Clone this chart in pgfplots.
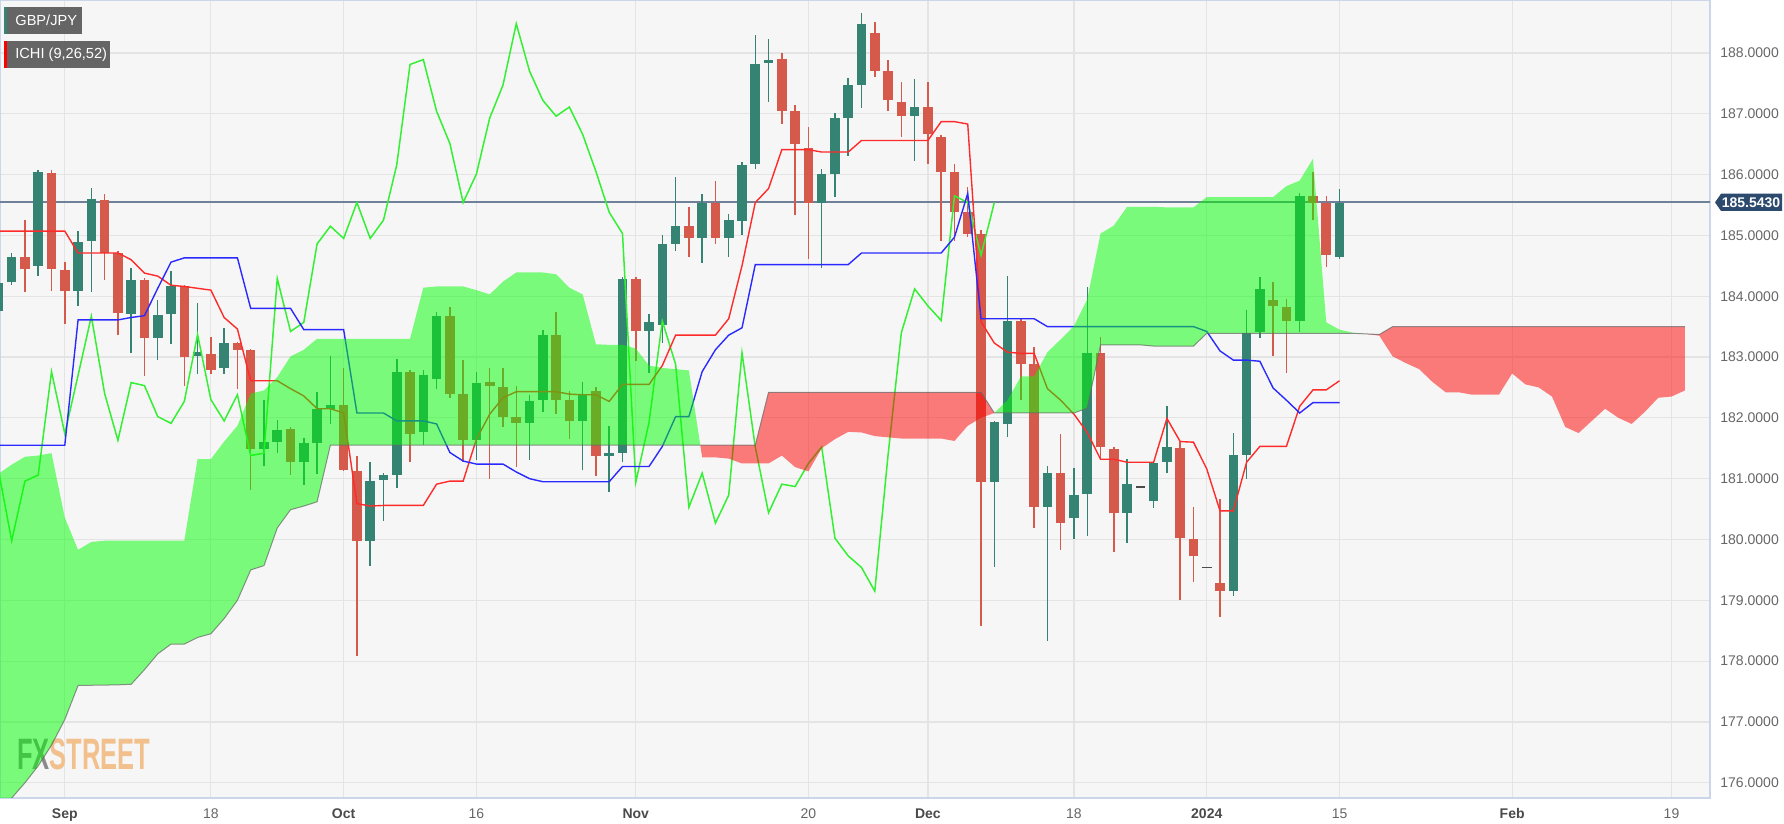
\documentclass[border=0pt]{standalone}
\usepackage{fontspec}
\setmainfont{Liberation Sans}
\usepackage{pgfplots}
\usepackage{pgfplotstable}
\pgfplotsset{compat=1.18}

\definecolor{cUp}{HTML}{358473}
\definecolor{cDn}{HTML}{D65A4B}
\definecolor{cTen}{HTML}{FF2A2A}
\definecolor{cKij}{HTML}{2A2AFF}
\definecolor{cChi}{HTML}{33F033}
\definecolor{cPrice}{HTML}{6F8099}
\definecolor{cGrid}{HTML}{E4E4E4}
\definecolor{cBg}{HTML}{F6F6F6}
\definecolor{cBorder}{HTML}{CCD6EB}
\definecolor{cLab}{HTML}{666666}
\definecolor{cMon}{HTML}{4A4A4A}
\definecolor{cBox}{HTML}{5E5E5E}
\definecolor{cNavy}{HTML}{2C4A6E}
\definecolor{cLogo}{HTML}{F2C08C}
\definecolor{cLogoG}{HTML}{8A8A8A}
\newcommand\mb[1]{\textcolor{cMon}{\textbf{#1}}}

% rising candles
\pgfplotstableread{
i o h l c
-5 183.76 184.35 183.55 184.22
-4 184.23 184.71 184.18 184.65
-2 184.50 186.07 184.33 186.05
1 184.09 185.07 183.84 184.90
2 184.90 185.78 184.07 185.59
5 183.71 184.46 183.06 184.27
7 183.31 183.94 182.95 183.70
8 183.70 184.41 183.21 184.16
10 183.02 183.89 182.72 183.08
12 182.82 183.48 182.73 183.23
15 181.49 182.29 181.21 181.60
16 181.60 181.97 181.42 181.80
18 181.28 181.67 180.90 181.59
19 181.59 182.42 181.08 182.15
20 182.15 183.02 181.90 182.21
23 179.98 181.27 179.57 180.96
24 180.98 181.10 180.31 181.06
25 181.06 182.97 180.85 182.76
27 181.76 182.78 181.55 182.70
28 182.64 183.74 182.48 183.67
31 181.63 182.76 181.31 182.58
35 181.91 182.38 181.31 182.27
36 182.29 183.44 182.10 183.37
39 181.95 182.59 181.14 182.38
41 181.38 181.87 180.78 181.42
42 181.42 184.32 181.28 184.29
44 183.42 183.71 182.74 183.57
45 183.52 185.00 183.23 184.86
46 184.86 185.96 184.75 185.15
48 184.95 185.68 184.54 185.54
50 184.95 185.35 184.65 185.25
51 185.24 186.21 185.00 186.16
52 186.18 188.30 186.09 187.81
53 187.83 188.23 187.20 187.89
57 185.54 186.09 184.46 186.01
58 186.01 187.02 185.63 186.93
59 186.93 187.58 186.30 187.47
60 187.47 188.66 187.09 188.48
64 186.96 187.57 186.22 187.11
70 180.94 181.95 179.55 181.93
71 181.90 184.33 181.68 183.59
74 180.53 181.21 178.34 181.09
76 180.35 181.17 180.00 180.73
77 180.75 184.16 180.06 183.07
80 180.44 181.33 179.94 180.91
82 180.64 181.27 180.51 181.25
83 181.27 182.20 181.10 181.52
88 179.15 181.76 179.07 181.39
89 181.39 183.78 181.00 183.40
90 183.42 184.32 183.31 184.12
93 183.60 185.69 183.42 185.65
96 184.65 185.77 184.62 185.54
}\upC

% falling candles
\pgfplotstableread{
i o h l c
-3 184.65 185.25 184.07 184.44
-1 186.02 186.07 184.09 184.44
0 184.43 184.56 183.54 184.09
3 185.59 185.68 184.26 184.71
4 184.71 184.75 183.36 183.73
6 184.27 184.30 182.68 183.31
9 184.16 184.18 182.53 183.00
11 183.05 183.33 182.73 182.78
13 183.23 183.25 182.48 183.12
14 183.11 183.13 180.81 181.49
17 181.81 181.85 181.06 181.28
21 182.21 182.82 181.12 181.14
22 181.12 181.38 178.09 179.98
26 182.76 182.78 181.27 181.74
29 183.67 183.82 182.33 182.40
30 182.39 182.96 181.27 181.63
32 182.59 182.82 181.00 182.53
33 182.50 182.82 181.85 182.02
34 182.01 182.52 181.19 181.91
37 183.37 183.74 182.06 182.30
38 182.29 182.44 181.65 181.95
40 182.44 182.50 181.04 181.38
43 184.29 184.32 182.93 183.42
47 185.15 185.47 184.65 184.95
49 185.54 185.90 184.86 184.95
54 187.90 188.00 186.83 187.04
55 187.04 187.15 185.33 186.51
56 186.43 186.79 184.62 185.54
61 188.33 188.51 187.60 187.70
62 187.70 187.89 187.04 187.22
63 187.20 187.52 186.62 186.96
65 187.11 187.52 186.18 186.66
66 186.62 186.65 184.91 186.05
67 186.05 186.18 184.91 185.38
68 185.38 185.80 184.98 185.03
69 185.03 185.09 178.58 180.94
72 183.59 183.62 182.29 182.88
73 182.88 183.16 180.19 180.53
75 181.09 181.74 179.83 180.27
78 183.07 183.33 181.31 181.52
79 181.49 181.52 179.79 180.44
84 181.50 181.61 179.00 180.02
85 180.00 180.53 179.30 179.73
87 179.28 180.66 178.73 179.15
91 183.94 184.24 183.01 183.84
92 183.82 183.95 182.74 183.60
94 185.65 186.05 185.25 185.54
95 185.53 185.65 184.48 184.67
}\dnC

% unchanged (doji) candles
\pgfplotstableread{
i o h l c
81 180.87 180.90 180.84 180.87
86 179.54 179.56 179.52 179.54
}\djC

% lagging span
\pgfplotstableread{
x v
-5 181.14
-4 179.98
-3 180.96
-2 181.06
-1 182.76
0 181.74
1 182.70
2 183.67
3 182.40
4 181.63
5 182.58
6 182.53
7 182.02
8 181.91
9 182.27
10 183.37
11 182.30
12 181.95
13 182.38
14 181.38
15 181.42
16 184.29
17 183.42
18 183.57
19 184.86
20 185.15
21 184.95
22 185.54
23 184.95
24 185.25
25 186.16
26 187.81
27 187.89
28 187.04
29 186.51
30 185.54
31 186.01
32 186.93
33 187.47
34 188.48
35 187.70
36 187.22
37 186.96
38 187.11
39 186.66
40 186.05
41 185.38
42 185.03
43 180.94
44 181.93
45 183.59
46 182.88
47 180.53
48 181.09
49 180.27
50 180.73
51 183.07
52 181.52
53 180.44
54 180.91
55 180.87
56 181.25
57 181.52
58 180.02
59 179.73
60 179.54
61 179.15
62 181.39
63 183.40
64 184.12
65 183.84
66 183.60
67 185.65
68 185.54
69 184.67
70 185.54
}\chikou

% conversion (t) and base (k) lines
\pgfplotstableread{
i t k
-5 185.07 181.55
-4 185.07 181.55
-3 185.07 181.55
-2 185.07 181.55
-1 185.07 181.55
0 185.07 181.55
1 184.71 183.61
2 184.71 183.61
3 184.71 183.61
4 184.71 183.61
5 184.60 183.65
6 184.38 183.68
7 184.33 184.13
8 184.18 184.56
9 184.16 184.63
10 184.13 184.63
11 184.10 184.63
12 183.65 184.63
13 183.46 184.63
14 182.61 183.80
15 182.61 183.80
16 182.61 183.80
17 182.48 183.80
18 182.36 183.45
19 182.15 183.45
20 182.15 183.45
21 182.08 183.45
22 180.59 182.08
23 180.55 182.08
24 180.56 182.08
25 180.56 181.95
26 180.56 181.95
27 180.56 181.95
28 180.91 181.90
29 180.96 181.43
30 180.96 181.29
31 181.65 181.24
32 182.06 181.24
33 182.33 181.24
34 182.43 181.11
35 182.43 181.00
36 182.43 180.95
37 182.43 180.95
38 182.39 180.95
39 182.38 180.95
40 182.38 180.95
41 182.27 180.95
42 182.55 181.20
43 182.55 181.20
44 182.55 181.20
45 182.86 181.53
46 183.36 182.02
47 183.36 182.02
48 183.36 182.76
49 183.36 183.12
50 183.63 183.36
51 184.50 183.48
52 185.54 184.52
53 185.77 184.52
54 186.41 184.52
55 186.41 184.52
56 186.41 184.52
57 186.37 184.52
58 186.37 184.52
59 186.37 184.52
60 186.56 184.71
61 186.56 184.71
62 186.56 184.71
63 186.56 184.71
64 186.56 184.71
65 186.56 184.71
66 186.87 184.71
67 186.87 184.97
68 186.83 185.69
69 183.58 183.63
70 183.23 183.63
71 183.08 183.63
72 183.06 183.63
73 183.06 183.63
74 182.48 183.50
75 182.29 183.50
76 182.06 183.50
77 181.76 183.50
78 181.32 183.50
79 181.32 183.50
80 181.27 183.50
81 181.27 183.50
82 181.27 183.50
83 181.99 183.50
84 181.61 183.50
85 181.60 183.50
86 181.16 183.42
87 180.47 183.10
88 180.47 182.95
89 181.27 182.95
90 181.53 182.93
91 181.53 182.49
92 181.53 182.29
93 182.19 182.08
94 182.46 182.25
95 182.46 182.25
96 182.61 182.25
}\lines

% cloud outlines: span A forward, then span B backward
\pgfplotstableread{
x y
-5 181.08
-4 181.23
-3 181.36
-2 181.38
-1 181.42
0 180.36
1 179.83
2 179.96
3 179.98
9 179.98
10 181.32
11 181.32
12 181.61
13 181.87
14 182.40
15 182.45
16 182.67
17 183.01
18 183.12
19 183.30
26 183.30
27 184.14
28 184.16
30 184.16
31 184.10
32 184.03
33 184.24
34 184.39
36 184.39
37 184.36
38 184.14
39 184.03
40 183.21
41 183.20
42 183.20
43 183.14
44 182.86
45 182.82
46 182.80
47 182.78
47.86 181.55
20 181.55
19 180.62
18 180.55
17 180.49
16 180.19
15 179.57
14 179.50
13 179.00
12 178.70
11 178.45
10 178.39
9 178.28
8 178.28
7 178.12
6 177.86
5 177.62
4 177.61
2 177.61
1 177.60
0 177.04
-1 176.62
-2 176.28
-3 176.00
-4 175.75
-5 175.55
}\polyGa

\pgfplotstableread{
x y
47.86 181.55
48 181.35
49 181.35
50 181.33
51 181.25
53 181.25
54 181.38
55 181.19
56 181.12
57 181.50
58 181.65
59 181.77
60 181.76
61 181.70
62 181.68
63 181.66
66 181.66
67 181.62
68 181.87
69 182.00
70 182.08
69 182.42
53 182.42
52 181.55
}\polyRa

\pgfplotstableread{
x y
70 182.08
71 182.29
72 182.68
73 182.68
74 183.08
75 183.29
76 183.51
77 183.95
78 185.03
79 185.16
80 185.47
82 185.47
83 185.46
85 185.46
86 185.63
91 185.63
92 185.81
93 185.90
94 186.26
95 183.57
96 183.45
97 183.40
98 183.38
97 183.39
86 183.39
85 183.18
82 183.18
81 183.20
78 183.20
77 182.16
76 182.08
}\polyGb

\pgfplotstableread{
x y
98 183.38
99 183.35
100 183.01
101 182.90
102 182.80
103 182.59
104 182.42
105 182.42
106 182.38
108 182.38
109 182.73
110 182.55
111 182.50
112 182.35
113 181.85
114 181.75
115 181.95
116 182.15
117 182.00
118 181.90
119 182.10
120 182.33
121 182.35
122 182.45
122 183.50
100 183.50
99 183.37
}\polyRb

% span B edge
\pgfplotstableread{
x y
-5 175.55
-4 175.75
-3 176.00
-2 176.28
-1 176.62
0 177.04
1 177.60
4 177.61
5 177.62
6 177.86
7 178.12
8 178.28
9 178.28
10 178.39
11 178.45
12 178.70
13 179.00
14 179.50
15 179.57
16 180.19
17 180.49
18 180.55
19 180.62
20 181.55
52 181.55
53 182.42
69 182.42
70 182.08
76 182.08
77 182.16
78 183.20
81 183.20
82 183.18
85 183.18
86 183.39
97 183.39
98 183.38
99 183.37
100 183.50
122 183.50
}\spanB

\begin{document}
\begin{tikzpicture}
\useasboundingbox (0,0) rectangle (892pt,412pt);
\begin{axis}[
  at={(0pt,13pt)}, anchor=south west,
  width=855pt, height=399pt, scale only axis,
  xmin=-4.88, xmax=123.9, ymin=175.75, ymax=188.87,
  axis background/.style={fill=cBg},
  axis line style={cBorder, line width=0.6pt},
  xtick={0,11,21,31,43,56,65,76,86,96,109,121},
  xticklabels={\mb{Sep},18,\mb{Oct},16,\mb{Nov},20,\mb{Dec},18,\mb{2024},15,\mb{Feb},19},
  ytick={176,177,...,188},
  grid=major, major grid style={cGrid, line width=0.6pt},
  major tick length=0pt,
  yticklabel pos=right,
  tick label style={font=\fontsize{7}{8}\selectfont, color=cLab},
  yticklabel style={anchor=west, xshift=5pt, inner sep=0pt,
    /pgf/number format/.cd, fixed, fixed zerofill, precision=4, 1000 sep={}},
  xticklabel style={anchor=base, yshift=-10.5pt, inner sep=0pt},
  /pgf/number format/assume math mode=true,
  wick/.style={draw=none, mark=none, forget plot,
    error bars/.cd, y dir=both, y explicit, error mark=none,
    error bar style={draw=#1, line width=0.75pt}},
  body/.style={draw=none, mark=none, forget plot,
    error bars/.cd, y dir=both, y explicit, error mark=none,
    error bar style={draw=#1, line width=4.8pt}},
]
\node[anchor=west, inner sep=0pt, xscale=0.58, font=\fontsize{22}{24}\selectfont\bfseries] at (axis cs:-3.6,176.47) {\textcolor{cLogoG}{FX}\textcolor{cLogo}{STREET}};
\addplot[cPrice, line width=1pt, forget plot] coordinates {(-4.88,185.543) (123.9,185.543)};
\addplot[wick=cUp] table[x=i, y expr={(\thisrow{h}+\thisrow{l})/2},
    y error plus expr={(\thisrow{h}-\thisrow{l})/2},
    y error minus expr={(\thisrow{h}-\thisrow{l})/2}] {\upC};
\addplot[wick=cDn] table[x=i, y expr={(\thisrow{h}+\thisrow{l})/2},
    y error plus expr={(\thisrow{h}-\thisrow{l})/2},
    y error minus expr={(\thisrow{h}-\thisrow{l})/2}] {\dnC};
\addplot[body=cUp] table[x=i, y expr={(\thisrow{o}+\thisrow{c})/2},
    y error plus expr={max(abs(\thisrow{c}-\thisrow{o})/2,0.015)},
    y error minus expr={max(abs(\thisrow{c}-\thisrow{o})/2,0.015)}] {\upC};
\addplot[body=cDn] table[x=i, y expr={(\thisrow{o}+\thisrow{c})/2},
    y error plus expr={max(abs(\thisrow{c}-\thisrow{o})/2,0.015)},
    y error minus expr={max(abs(\thisrow{c}-\thisrow{o})/2,0.015)}] {\dnC};
\addplot[body=black!70] table[x=i, y=c, y error plus expr={0.012}, y error minus expr={0.012}] {\djC};
\addplot[cChi, line width=0.75pt, forget plot] table[x=x, y=v] {\chikou};
\addplot[cTen, line width=0.7pt, forget plot] table[x=i, y=t] {\lines};
\addplot[cKij, line width=0.7pt, forget plot] table[x=i, y=k] {\lines};
\addplot[fill=green, fill opacity=0.5, draw=none, forget plot] table[x=x, y=y] {\polyGa} -- cycle;
\addplot[fill=red, fill opacity=0.5, draw=none, forget plot] table[x=x, y=y] {\polyRa} -- cycle;
\addplot[fill=green, fill opacity=0.5, draw=none, forget plot] table[x=x, y=y] {\polyGb} -- cycle;
\addplot[fill=red, fill opacity=0.5, draw=none, forget plot] table[x=x, y=y] {\polyRb} -- cycle;
\addplot[black!60, line width=0.5pt, opacity=0.7, forget plot] table[x=x, y=y] {\spanB};
\coordinate (PL) at (axis cs:123.9,185.543);
\end{axis}
\fill[cNavy] ([xshift=2.5pt]PL) -- ([xshift=5.5pt,yshift=4.3pt]PL) -- ([xshift=36pt,yshift=4.3pt]PL) -- ([xshift=36pt,yshift=-4.3pt]PL) -- ([xshift=5.5pt,yshift=-4.3pt]PL) -- cycle;
\node[anchor=center, text=white, font=\fontsize{7}{8}\selectfont\bfseries, inner sep=0pt] at ([xshift=20.5pt]PL) {185.5430};
\fill[cBox, fill opacity=0.95] (2pt,395pt) rectangle (41pt,408.5pt);
\fill[cUp] (2pt,395pt) rectangle (3.6pt,408.5pt);
\node[anchor=west, text=white, font=\fontsize{7.3}{8}\selectfont, inner sep=0pt] at (7.5pt,401.75pt) {GBP/JPY};
\fill[cBox, fill opacity=0.95] (2pt,378pt) rectangle (55pt,391.5pt);
\fill[red] (2pt,378pt) rectangle (3.6pt,391.5pt);
\node[anchor=west, text=white, font=\fontsize{7.3}{8}\selectfont, inner sep=0pt] at (7.5pt,384.75pt) {ICHI (9,26,52)};
\end{tikzpicture}
\end{document}
